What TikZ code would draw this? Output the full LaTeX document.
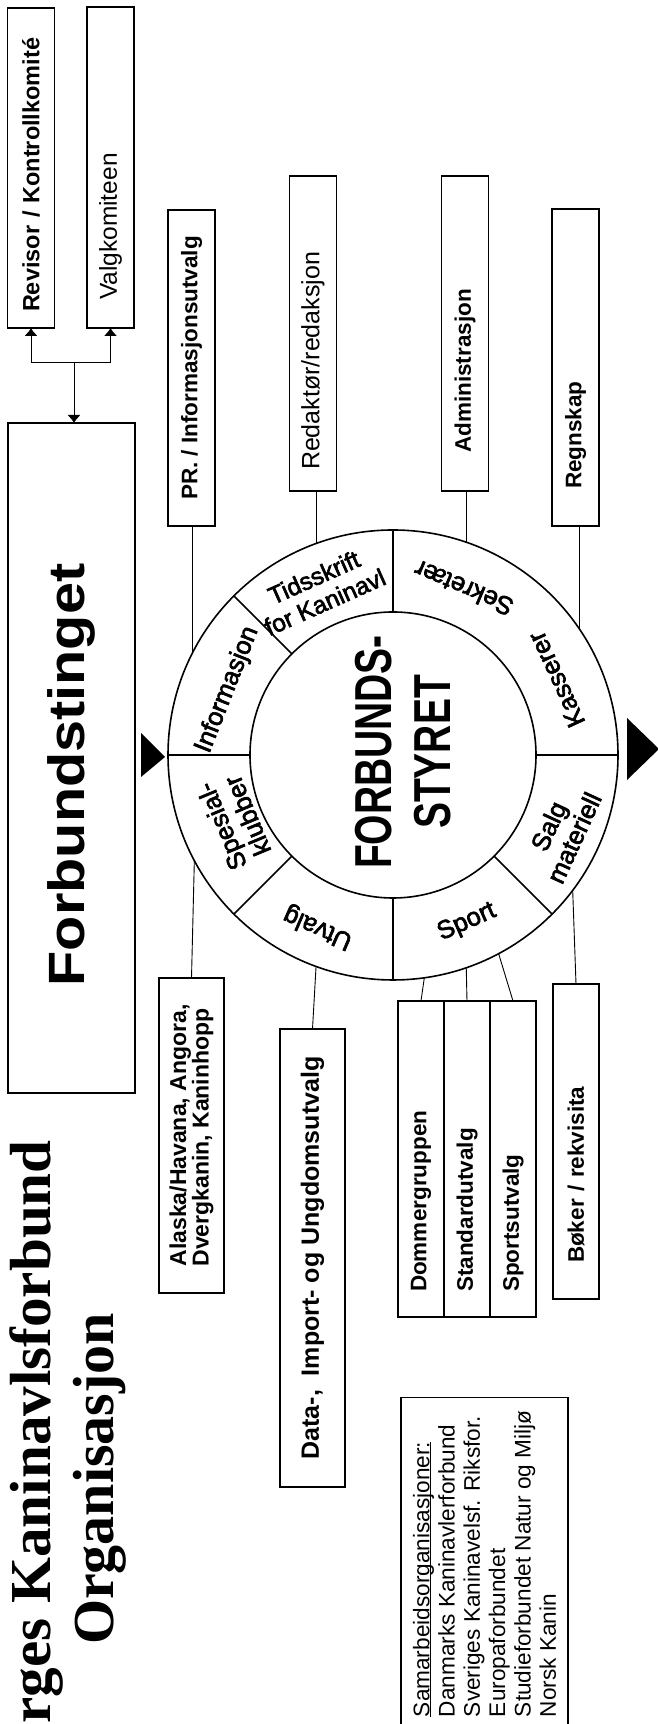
\documentclass[tikz,border=0pt]{standalone}
\usepackage{fontspec}
\setmainfont{Liberation Sans}
\newfontfamily\titlefont{Liberation Serif}
\newfontfamily\ringfont[FakeBold=2.5]{Liberation Sans}
\usepackage{graphicx}
\usepackage{tikz}
\usetikzlibrary{arrows.meta,positioning}

\newcommand\narrowtext[1]{\scalebox{.75}[1]{#1}}
\newcommand\ruled[1]{\setbox0\hbox{#1}\rlap{\rule[-2pt]{\wd0}{1pt}}\box0}

\tikzset{
  unit/.style={draw, line width=1.1pt, inner ysep=0pt, outer sep=0pt, minimum height=47pt,
    font=\bfseries\fontsize{22.5}{24}\selectfont},
  light/.style={font=\fontsize{24.5}{26}\selectfont},
  seg/.style={font=\ringfont\fontsize{25.5}{28}\selectfont, align=center, inner sep=0pt},
  feed/.style={line width=0.9pt},
  tip/.style={-{Latex[length=8pt,width=13pt]}},
}

\begin{document}
\begin{tikzpicture}[rotate=90, transform shape, x=1pt, y=1pt]
\useasboundingbox (0,-658) rectangle (1724,0);
\clip (0,-658) rectangle (1724,0);

\node[anchor=base east, inner sep=0pt, font=\titlefont\bfseries\fontsize{58}{63}\selectfont] (title) at (584,-50) {\scalebox{1.02}[1]{Norges Kaninavlsforbund}};
\node[anchor=base, inner sep=0pt, font=\titlefont\bfseries\fontsize{58}{63}\selectfont] (subtitle) at (245,-113) {Organisasjon};

\node[draw, line width=1.1pt, outer sep=0pt, minimum width=670pt, minimum height=127pt, inner sep=0pt,
  font=\bfseries\fontsize{51}{60}\selectfont] (ting) at (966,-71.5) {\scalebox{1.13}[1]{Forbundstinget}\hspace*{34pt}};

\node[unit, font=\bfseries\fontsize{23.5}{26}\selectfont, text width=288pt, inner xsep=16pt, align=left] (revisor) at (1556,-31) {Revisor / Kontrollkomité};
\node[unit, light, text width=265pt, inner xsep=28pt, align=left] (valg) at (1556.5,-110.5) {Valgkomiteen};

\node[unit, minimum width=316pt] (pr) at (1356,-191.5) {PR. / Informasjonsutvalg};
\node[unit, light, font=\fontsize{25}{27}\selectfont, text width=273pt, inner xsep=21pt, align=left] (red) at (1390.5,-313) {Redaktør/redaksjon};
\node[unit, text width=239pt, inner xsep=38pt, align=left] (admin) at (1390.5,-465) {Administrasjon};
\node[unit, text width=243pt, inner xsep=37pt, align=left] (regn) at (1356.5,-575.5) {Regnskap};

\node[unit, minimum width=315pt, minimum height=65pt, align=left, font=\bfseries\fontsize{23}{22.5}\selectfont] (alaska) at (588.5,-191.5) {Alaska/Havana, Angora,\\Dvergkanin, Kaninhopp};
\node[unit, minimum width=458pt, minimum height=65pt, font=\bfseries\fontsize{25}{27}\selectfont] (data) at (466,-312.5) {Data-,~ Import- og Ungdomsutvalg};
\node[unit, minimum height=46pt, text width=266pt, inner xsep=25pt, align=left] (dommer) at (565,-421) {Dommergruppen};
\node[unit, minimum height=46pt, text width=266pt, inner xsep=25pt, align=left, below=0pt of dommer] (standard) {Standardutvalg};
\node[unit, minimum height=46pt, text width=266pt, inner xsep=25pt, align=left, below=0pt of standard] (sportu) {Sportsutvalg};
\node[unit, minimum height=46pt, text width=243pt, inner xsep=36pt, align=left] (boker) at (582.5,-576) {Bøker / rekvisita};

\node[draw, line width=1.1pt, anchor=east, minimum height=167pt, inner xsep=13pt, align=left,
  font=\fontsize{22.6}{25.3}\selectfont] (samarb) at (327,-484.5) {\ruled{Samarbeidsorganisasjoner:}\\Danmarks Kaninavlerforbund\\Sveriges Kaninavelsf. Riksfor.\\Europaforbundet\\Studieforbundet Natur og Miljø\\Norsk Kanin};

\node[circle, draw, line width=1.6pt, minimum size=450pt, inner sep=0pt, outer sep=0pt] (ring) at (969,-393) {};
\node[circle, draw, line width=1.6pt, minimum size=286pt, inner sep=0pt, outer sep=0pt] (board) at (ring.center) {};
\foreach \a in {0,45,...,270}
  \draw[line width=1.6pt] (board.\a) -- (ring.\a);

\node[seg, rotate=-66, font=\ringfont\fontsize{24.5}{27}\selectfont] (tids) at ([shift={(24:181)}]ring.center) {Tidsskrift\\for Kaninavl};
\foreach \a/\r/\t in {68.5/178/Informasjon, 112.6/172/{Spesial-\\klubber}, 156.5/188/Utvalg}
  \node[seg, rotate=\a-90] at ([shift={(\a:\r)}]ring.center) {\t};
\foreach \a/\r/\t in {203.8/183/Sport, 245.4/185/{Salg\\materiell}, 294.8/180/Kasserer, 337/181/Sekretær}
  \node[seg, rotate=\a+90] at ([shift={(\a:\r)}]ring.center) {\t};

\node[font=\bfseries\fontsize{52}{59.5}\selectfont, align=center, inner sep=0pt] (styret) at ([shift={(3,-10)}]board.center) {\narrowtext{FORBUNDS-}\\\narrowtext{STYRET}};

\foreach \b/\a in {pr/63.6, red/20, admin/-19.5, regn/-56.6}
  \draw[feed] (ring.\a) -- (\b.west |- ring.\a);
\foreach \b/\a in {alaska/118.5, data/160, dommer/188.4, standard/199.5, sportu/208.4, boker/233.5}
  \draw[feed] (\b.east) -- (ring.\a);

\coordinate (fork) at (1362,-74);
\draw[feed, tip] (fork) -- (ting.east |- fork);
\draw[feed, {Latex[length=8pt,width=13pt]}-{Latex[length=8pt,width=13pt]}] (revisor.west) -| (fork) |- (valg.west);

\fill ([shift={(-22,27)}]ring.north) -- ([shift={(22,27)}]ring.north) -- ([shift={(-2,3)}]ring.north) -- cycle;
\fill ([shift={(-25,-9)}]ring.south) -- ([shift={(37,-9)}]ring.south) -- ([shift={(6,-41)}]ring.south) -- cycle;
\end{tikzpicture}
\end{document}
